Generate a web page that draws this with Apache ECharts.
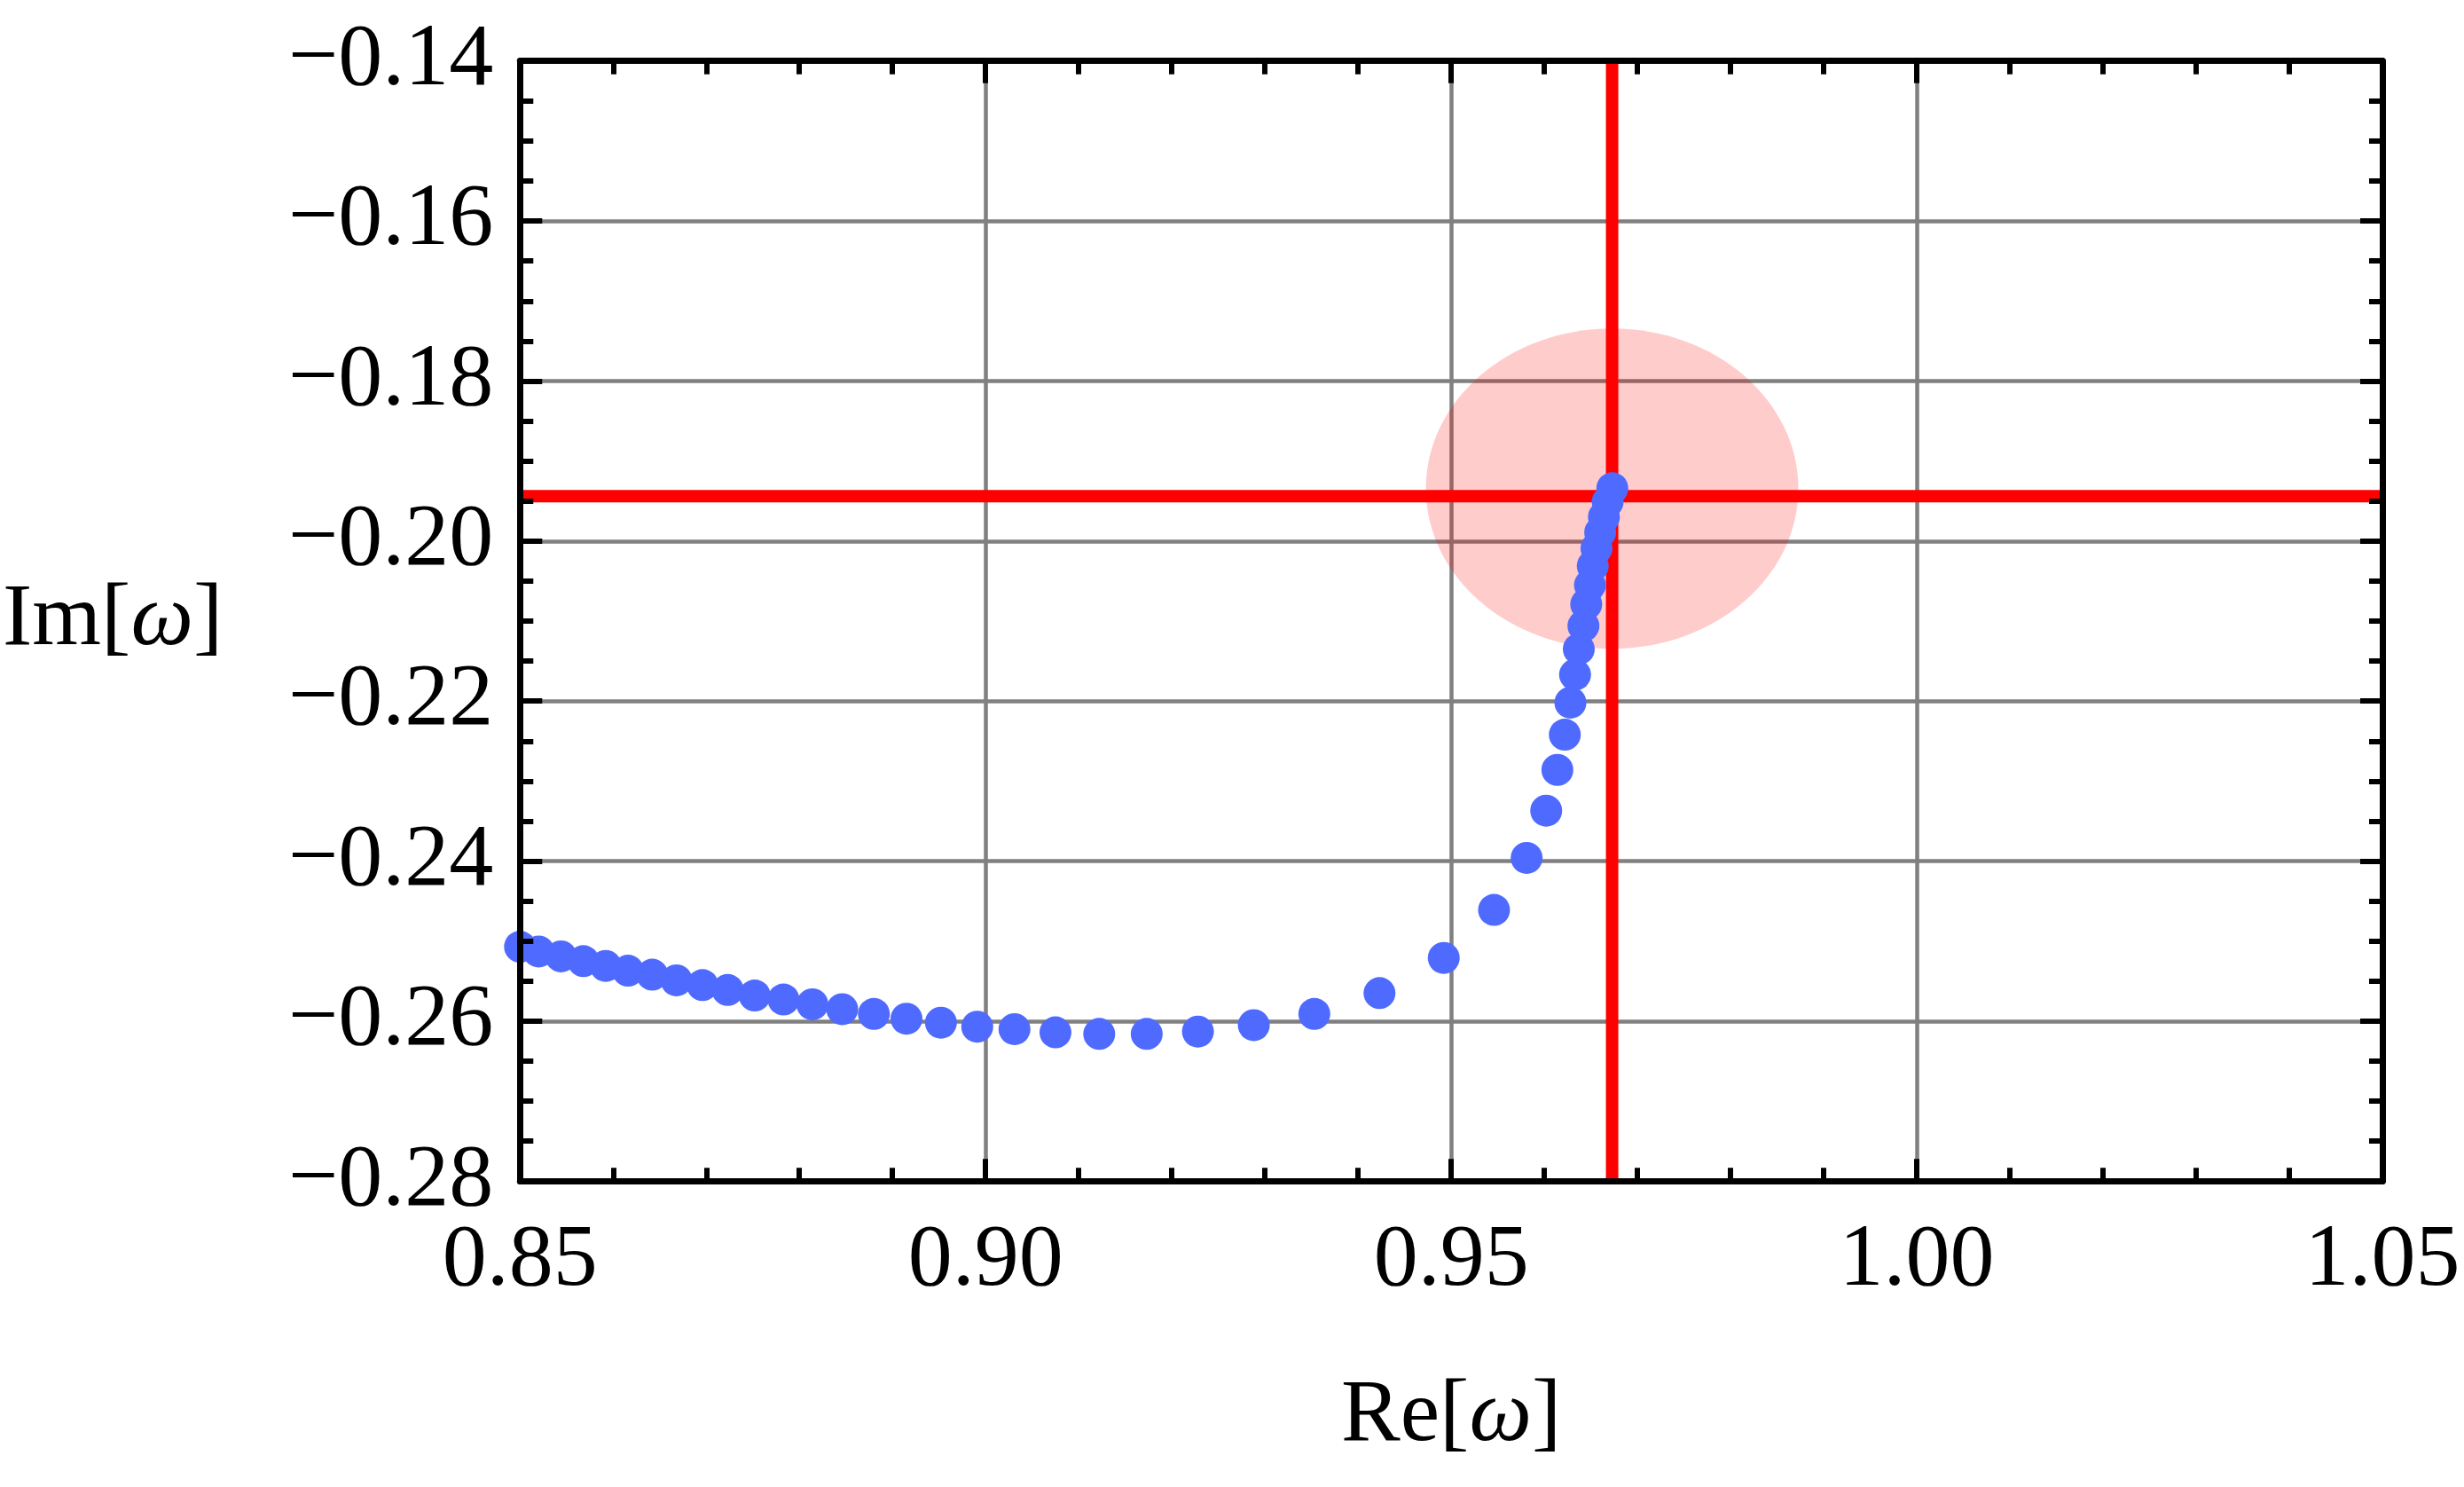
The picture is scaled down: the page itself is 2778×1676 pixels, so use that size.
<!DOCTYPE html>
<html>
<head>
<meta charset="utf-8">
<script src="https://cdn.jsdelivr.net/npm/echarts@6/dist/echarts.min.js"></script>
<style>
html,body{margin:0;padding:0;background:#fff;}
#chart{width:2778px;height:1676px;}
</style>
</head>
<body>
<div id="chart"></div>
<script>
// ---- data ----
const reOmega = [0.8500,0.8520,0.8544,0.8568,0.8592,0.8616,0.8642,0.8668,0.8696,0.8723,0.8752,0.8783,0.8814,0.8846,0.8880,0.8915,0.8952,0.8991,0.9031,0.9075,0.9122,0.9173,0.9228,0.9288,0.9353,0.9423,0.9492,0.9546,0.9581,0.9602,0.9614,0.9622,0.9628,0.9633,0.9637,0.9642,0.9645,0.9649,0.9652,0.9656,0.9660,0.9664,0.9668,0.9673];
const imOmega = [-0.2507,-0.2513,-0.2519,-0.2525,-0.2531,-0.2537,-0.2542,-0.2549,-0.2555,-0.2561,-0.2568,-0.2573,-0.2579,-0.2585,-0.2591,-0.2597,-0.2602,-0.2607,-0.2610,-0.2614,-0.2616,-0.2616,-0.2613,-0.2605,-0.2591,-0.2565,-0.2521,-0.2461,-0.2396,-0.2337,-0.2286,-0.2242,-0.2202,-0.2167,-0.2135,-0.2106,-0.2079,-0.2055,-0.2031,-0.2009,-0.1989,-0.1970,-0.1951,-0.1934];
const vLineX = 0.96728;      // vertical red line (Re)
const hLineY = -0.1944;      // horizontal red line (Im)
const circleCenter = [0.96728, -0.19344];
const circleRadius = 0.02;
const xTickValues = [0.85, 0.90, 0.95, 1.00, 1.05];
const xTickLabels = ['0.85', '0.90', '0.95', '1.00', '1.05'];
const yTickValues = [-0.28, -0.26, -0.24, -0.22, -0.20, -0.18, -0.16, -0.14];
const yTickLabels = ['\u22120.28', '\u22120.26', '\u22120.24', '\u22120.22', '\u22120.20', '\u22120.18', '\u22120.16', '\u22120.14'];
const xMin = 0.85, xMax = 1.05, yMin = -0.28, yMax = -0.14;

function lookup(values, labels, v) {
  let best = 0, bd = Infinity;
  values.forEach((t, i) => { const d = Math.abs(t - v); if (d < bd) { bd = d; best = i; } });
  return bd < 1e-6 ? labels[best] : '';
}

const FONT = 'Liberation Serif';
const chart = echarts.init(document.getElementById('chart'), null, {renderer: 'canvas'});

const frameLine = {show: true, onZero: false, lineStyle: {color: '#000', width: 7}};
const tickMain = {show: true, inside: true, length: 25, lineStyle: {color: '#000', width: 6}};
const xMinor = {show: true, splitNumber: 5, length: 15, lineStyle: {color: '#000', width: 6}};
const yMinor = {show: true, splitNumber: 4, length: 15, lineStyle: {color: '#000', width: 6}};

const xBase = {type: 'value', min: xMin, max: xMax, interval: 0.05};
const yBase = {type: 'value', min: yMin, max: yMax, interval: 0.02};

const option = {
  animation: false,
  backgroundColor: '#fff',
  grid: {left: 581.7, right: 92, top: 68.7, bottom: 344.7, containLabel: false},
  xAxis: [
    Object.assign({}, xBase, {
      position: 'bottom', z: 10,
      axisLine: frameLine, axisTick: tickMain, minorTick: xMinor,
      splitLine: {show: false}, minorSplitLine: {show: false},
      axisLabel: {show: true, margin: 40, fontFamily: FONT, fontSize: 100, color: '#000',
        formatter: v => lookup(xTickValues, xTickLabels, v)},
      name: '{r|Re[}{i|ω}{r|]}', nameLocation: 'middle', nameGap: 215,
      nameTextStyle: {color: '#000', rich: {
        r: {fontFamily: FONT, fontSize: 100, color: '#000'},
        i: {fontFamily: FONT, fontSize: 100, fontStyle: 'italic', color: '#000'}}}
    }),
    Object.assign({}, xBase, {
      position: 'top', z: 10,
      axisLine: frameLine, axisTick: tickMain, minorTick: xMinor,
      splitLine: {show: false}, axisLabel: {show: false}
    }),
    Object.assign({}, xBase, {
      position: 'bottom', z: 0,
      axisLine: {show: false}, axisTick: {show: false}, axisLabel: {show: false},
      splitLine: {show: true, lineStyle: {color: '#808080', width: 4.5}}
    })
  ],
  yAxis: [
    Object.assign({}, yBase, {
      position: 'left', z: 10,
      axisLine: frameLine, axisTick: tickMain, minorTick: yMinor,
      splitLine: {show: false},
      axisLabel: {show: true, margin: 30, fontFamily: FONT, fontSize: 100, color: '#000',
        formatter: v => lookup(yTickValues, yTickLabels, v)},
      name: '{r|Im[}{i|ω}{r|]}', nameLocation: 'middle', nameRotate: 0, nameGap: 335,
      nameTextStyle: {color: '#000', align: 'right', rich: {
        r: {fontFamily: FONT, fontSize: 100, color: '#000'},
        i: {fontFamily: FONT, fontSize: 100, fontStyle: 'italic', color: '#000'}}}
    }),
    Object.assign({}, yBase, {
      position: 'right', z: 10,
      axisLine: frameLine, axisTick: tickMain, minorTick: yMinor,
      splitLine: {show: false}, axisLabel: {show: false}
    }),
    Object.assign({}, yBase, {
      position: 'left', z: 0,
      axisLine: {show: false}, axisTick: {show: false}, axisLabel: {show: false},
      splitLine: {show: true, lineStyle: {color: '#808080', width: 4.5}}
    })
  ],
  series: [
    {
      type: 'custom', xAxisIndex: 0, yAxisIndex: 0, z: 2, silent: true,
      data: [[circleCenter[0], circleCenter[1], circleRadius]],
      renderItem: function (params, api) {
        const c = api.coord([api.value(0), api.value(1)]);
        const s = api.size([api.value(2), api.value(2)]);
        return {type: 'ellipse', shape: {cx: c[0], cy: c[1], rx: s[0], ry: s[1]},
          style: {fill: 'rgba(255,0,0,0.2)'}};
      }
    },
    {
      type: 'line', xAxisIndex: 0, yAxisIndex: 0, z: 3, silent: true,
      showSymbol: false, symbol: 'none',
      data: [[xMin, hLineY], [xMax, hLineY]],
      lineStyle: {color: '#ff0000', width: 14}
    },
    {
      type: 'line', xAxisIndex: 0, yAxisIndex: 0, z: 3, silent: true,
      showSymbol: false, symbol: 'none',
      data: [[vLineX, yMin], [vLineX, yMax]],
      lineStyle: {color: '#ff0000', width: 14}
    },
    {
      type: 'scatter', xAxisIndex: 0, yAxisIndex: 0, z: 4, clip: false,
      symbol: 'circle', symbolSize: 36,
      itemStyle: {color: '#4f6aff', opacity: 1},
      data: reOmega.map((x, i) => [x, imOmega[i]])
    }
  ]
};
chart.setOption(option);
</script>
</body>
</html>
